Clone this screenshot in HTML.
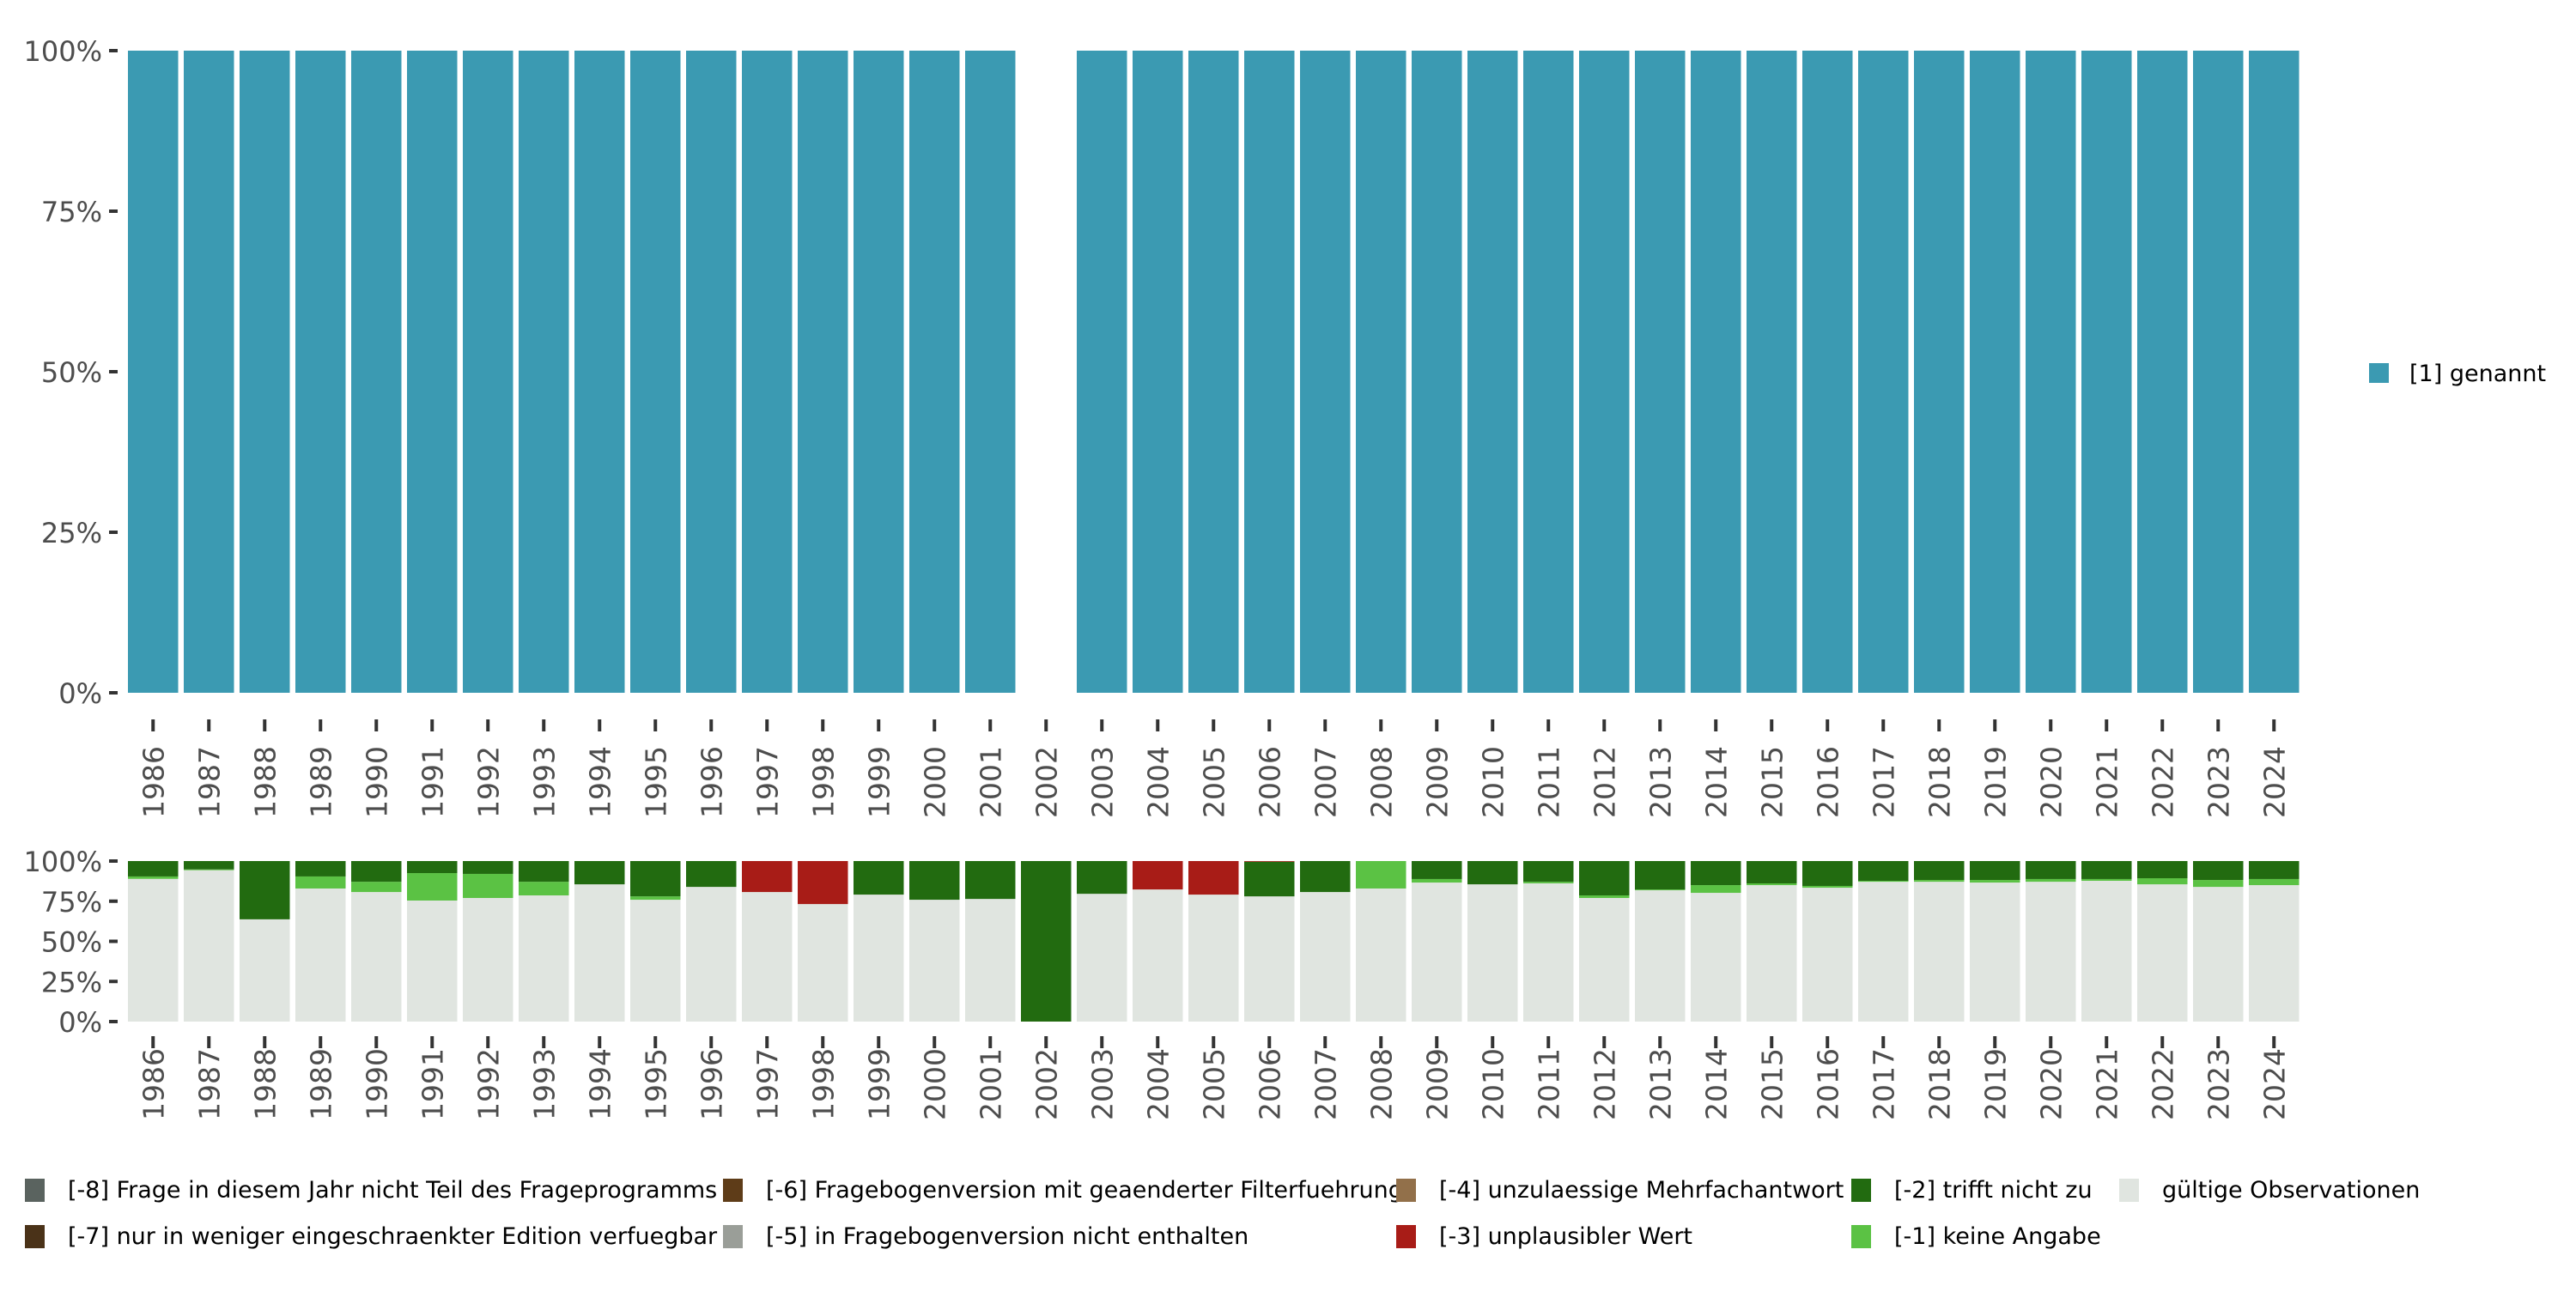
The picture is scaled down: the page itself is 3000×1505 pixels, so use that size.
<!DOCTYPE html>
<html><head><meta charset="utf-8"><style>
body{margin:0;background:#fff}
text{font-family:"DejaVu Sans","Liberation Sans",sans-serif}
</style></head><body>
<svg id="c" width="3000" height="1500" xmlns="http://www.w3.org/2000/svg"></svg>
<script>
const years=[1986,1987,1988,1989,1990,1991,1992,1993,1994,1995,1996,1997,1998,1999,2000,2001,2002,2003,2004,2005,2006,2007,2008,2009,2010,2011,2012,2013,2014,2015,2016,2017,2018,2019,2020,2021,2022,2023,2024];
const topValues=[1,1,1,1,1,1,1,1,1,1,1,1,1,1,1,1,0,1,1,1,1,1,1,1,1,1,1,1,1,1,1,1,1,1,1,1,1,1,1];
const valid=[0.889,0.943,0.637,0.829,0.807,0.754,0.770,0.786,0.855,0.759,0.839,0.807,0.732,0.791,0.759,0.764,0,0.796,0.823,0.791,0.780,0.807,0.829,0.866,0.855,0.861,0.770,0.818,0.802,0.850,0.834,0.871,0.871,0.866,0.871,0.877,0.855,0.839,0.850];
const keineAngabe=[0.015,0.005,0,0.075,0.064,0.171,0.150,0.085,0,0.021,0,0,0,0,0,0,0,0,0,0,0,0,0.171,0.022,0,0.010,0.016,0.005,0.048,0.011,0.011,0.006,0.011,0.016,0.017,0.011,0.038,0.043,0.038];
const unplausibel=[0,0,0,0,0,0,0,0,0,0,0,0.193,0.268,0,0,0,0,0,0.177,0.209,0.004,0,0,0,0,0,0,0,0,0,0,0,0,0,0,0,0,0,0];
const yTicks=[0,0.25,0.5,0.75,1];
const yTickLabels=["0%","25%","50%","75%","100%"];
const legendLabels=["[-8] Frage in diesem Jahr nicht Teil des Frageprogramms","[-7] nur in weniger eingeschraenkter Edition verfuegbar","[-6] Fragebogenversion mit geaenderter Filterfuehrung","[-5] in Fragebogenversion nicht enthalten","[-4] unzulaessige Mehrfachantwort","[-3] unplausibler Wert","[-2] trifft nicht zu","[-1] keine Angabe","gültige Observationen"];
const legendColors=["#5a635f","#4a3218","#5e3c18","#9a9e98","#92704a","#a81c17","#226b10","#5bc244","#e0e5e0"];

const svg=document.getElementById('c');const NS="http://www.w3.org/2000/svg";
function el(t,a,p){const e=document.createElementNS(NS,t);for(const k in a)e.setAttribute(k,a[k]);(p||svg).appendChild(e);return e;}
const x0=149,slot=65,bw=58.5;
function xPos(i){return x0+i*slot;}
function makeY(top,bot){return v=>bot-(bot-top)*v;}
const yT=makeY(59,807), yB=makeY(1003,1190);

function axes(y,bot,tickTop,labY,name){
  const g=el('g',{});
  
  
  yTicks.forEach((t,i)=>{
    el('line',{x1:127,x2:137,y1:y(t),y2:y(t),stroke:'#333','stroke-width':4},g);
    const tx=el('text',{x:119,y:y(t)+12,'text-anchor':'end','font-size':32,fill:'#4d4d4d'},g);
    tx.textContent=yTickLabels[i];
    
    
  });
  years.forEach((yr,i)=>{
    const cx=xPos(i)+bw/2;
    el('line',{x1:cx,x2:cx,y1:tickTop,y2:tickTop+14,stroke:'#333','stroke-width':4},g);
    const tx=el('text',{x:0,y:0,'font-size':33,fill:'#4d4d4d',transform:`translate(${cx+12},${labY}) rotate(-90)`},g);
    tx.textContent=yr;
    
    
  });
}
years.forEach((yr,i)=>{
  if(topValues[i]>0){
    const r=el('rect',{x:xPos(i),y:yT(topValues[i]),width:bw,height:yT(0)-yT(topValues[i]),fill:'#3b9ab2'});
    
    
  }
});
axes(yT,807,838,953,'top');
years.forEach((yr,i)=>{
  const segs=[[valid[i],'#e0e5e0','gueltig'],[keineAngabe[i],'#5bc244','keine-angabe']];
  let acc=0;
  const trifft=1-valid[i]-keineAngabe[i]-unplausibel[i];
  segs.push([trifft,'#226b10','trifft-nicht-zu']);
  segs.push([unplausibel[i],'#a81c17','unplausibel']);
  segs.forEach(s=>{
    if(s[0]<=0){return;}
    const r=el('rect',{x:xPos(i),y:yB(acc+s[0]),width:bw,height:yB(acc)-yB(acc+s[0]),fill:s[1]});
    
    
    acc+=s[0];
  });
});
axes(yB,1190,1207,1305,'bottom');
const tl=el('g',{});


el('rect',{x:2759,y:423,width:23,height:23,fill:'#3b9ab2'},tl);
el('text',{x:2806,y:444,'font-size':27,fill:'#000'},tl).textContent='[1] genannt';
const lx=[29,29,842,842,1626,1626,2156,2156,2468], ly=[1385,1439,1385,1439,1385,1439,1385,1439,1385];
legendLabels.forEach((l,i)=>{
  const g=el('g',{});
  
  
  el('rect',{x:lx[i],y:ly[i]-12,width:23,height:27,fill:legendColors[i]},g);
  el('text',{x:lx[i]+50,y:ly[i]+10,'font-size':27,fill:'#000'},g).textContent=l;
});
</script>
</body></html>
